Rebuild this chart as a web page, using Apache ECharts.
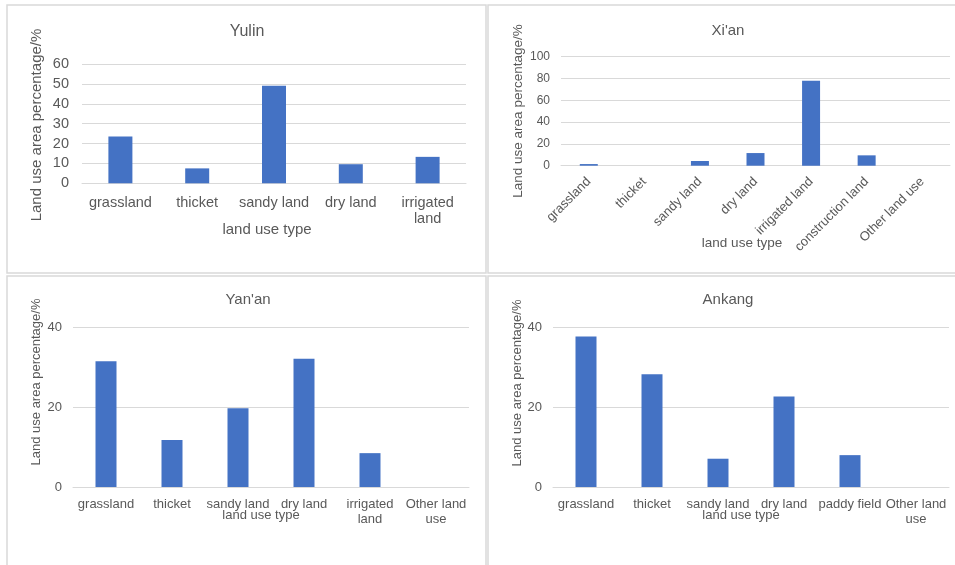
<!DOCTYPE html>
<html>
<head>
<meta charset="utf-8">
<script src="https://cdn.jsdelivr.net/npm/echarts@6/dist/echarts.min.js"></script>
<style>
html,body{margin:0;padding:0;background:#fff;}
#chart{width:955px;height:565px;}
</style>
</head>
<body>
<div id="chart"></div>
<script>
// ---- data ----
var panelTitles = ['Yulin', "Xi'an", "Yan'an", 'Ankang'];
var yAxisTitle = 'Land use area percentage/%';
var xAxisTitle = 'land use type';

var yulinCategories = ['grassland', 'thicket', 'sandy land', 'dry land', 'irrigated land'];
var yulinValues = [23.5, 7.5, 49, 9.6, 13.3];

var xianCategories = ['grassland', 'thicket', 'sandy land', 'dry land', 'irrigated land', 'construction land', 'Other land use'];
var xianValues = [1.5, 0, 4.3, 11.6, 78, 9.5, 0];

var yananCategories = ['grassland', 'thicket', 'sandy land', 'dry land', 'irrigated land', 'Other land use'];
var yananValues = [31.6, 11.8, 19.8, 32.2, 8.5, 0];

var ankangCategories = ['grassland', 'thicket', 'sandy land', 'dry land', 'paddy field', 'Other land use'];
var ankangValues = [37.8, 28.3, 7.1, 22.7, 8.0, 0];

var yulinTicks = {min: 0, max: 60, interval: 10};
var xianTicks = {min: 0, max: 100, interval: 20};
var yananTicks = {min: 0, max: 40, interval: 20};
var ankangTicks = {min: 0, max: 40, interval: 20};

// ---- styles / layout ----
var FONT = '"Liberation Sans", Arial, sans-serif';
var TXT = '#595959';
var GRIDC = '#d9d9d9';
var BAR = '#4472C4';

// wrap long category names like Excel does (break at last space within maxChars)
function wrapLabel(s, maxChars) {
  if (s.length <= 12) return s;
  var cut = s.lastIndexOf(' ', maxChars);
  if (cut <= 0) return s;
  return s.slice(0, cut) + '\n' + s.slice(cut + 1);
}

var panels = [
  {cats: yulinCategories, vals: yulinValues, ticks: yulinTicks,
   grid: {left: 82, top: 64, width: 384, height: 119.3},
   title: {x: 247, y: 24, size: 16}, labelSize: 14.5, tickSize: 14.5, yMargin: 13, xMargin: 11,
   barWidth: 24, rotate: 0,
   yName: {x: 37, y: 125, size: 15}, xName: {x: 267, y: 230, size: 15}},
  {cats: xianCategories, vals: xianValues, ticks: xianTicks,
   grid: {left: 561, top: 56.7, width: 389, height: 109},
   title: {x: 728, y: 23, size: 15}, labelSize: 13, tickSize: 12, yMargin: 11, xMargin: 14,
   barWidth: 18, rotate: 45,
   yName: {x: 518, y: 111, size: 13.5}, xName: {x: 742, y: 243, size: 13.5}},
  {cats: yananCategories, vals: yananValues, ticks: yananTicks,
   grid: {left: 73, top: 327.7, width: 396, height: 159.3},
   title: {x: 248, y: 292, size: 15}, labelSize: 13, tickSize: 13, yMargin: 11, xMargin: 10,
   barWidth: 21, rotate: 0,
   yName: {x: 36, y: 382, size: 13}, xName: {x: 261, y: 515, size: 13}},
  {cats: ankangCategories, vals: ankangValues, ticks: ankangTicks,
   grid: {left: 553, top: 327.7, width: 396, height: 159.3},
   title: {x: 728, y: 292, size: 15}, labelSize: 13, tickSize: 13, yMargin: 11, xMargin: 10,
   barWidth: 21, rotate: 0,
   yName: {x: 517, y: 383, size: 13}, xName: {x: 741, y: 515, size: 13}}
];

var option = {
  backgroundColor: '#ffffff',
  animation: false,
  textStyle: {fontFamily: FONT},
  title: [], grid: [], xAxis: [], yAxis: [], series: [],
  graphic: []
};

// panel frames
var frames = [
  {x: 7, y: 5, w: 479, h: 268},
  {x: 488, y: 5, w: 475, h: 268},
  {x: 7, y: 276, w: 479, h: 300},
  {x: 488, y: 276, w: 475, h: 300}
];
frames.forEach(function (f) {
  option.graphic.push({
    type: 'rect', silent: true, z: -10,
    shape: {x: f.x, y: f.y, width: f.w, height: f.h},
    style: {fill: '#ffffff', stroke: GRIDC, lineWidth: 1.5}
  });
});

panels.forEach(function (p, i) {
  option.title.push({
    text: panelTitles[i], left: p.title.x, top: p.title.y, textAlign: 'center', padding: 0,
    textStyle: {fontFamily: FONT, fontWeight: 'normal', fontSize: p.title.size, color: TXT}
  });
  option.grid.push({left: p.grid.left, top: p.grid.top, width: p.grid.width, height: p.grid.height, containLabel: false});
  var rot = p.rotate;
  option.xAxis.push({
    type: 'category', gridIndex: i, data: p.cats,
    axisLine: {show: true, lineStyle: {color: GRIDC, width: 1}},
    axisTick: {show: false},
    axisLabel: {
      interval: 0, rotate: rot, margin: p.xMargin, color: TXT,
      fontFamily: FONT, fontSize: p.labelSize, lineHeight: p.labelSize * 1.15,
      formatter: function (v) { return rot ? v : wrapLabel(v, 10); }
    }
  });
  option.yAxis.push({
    type: 'value', gridIndex: i, min: p.ticks.min, max: p.ticks.max, interval: p.ticks.interval,
    axisLine: {show: false}, axisTick: {show: false},
    splitLine: {show: true, lineStyle: {color: GRIDC, width: 1}},
    axisLabel: {color: TXT, fontFamily: FONT, fontSize: p.tickSize, margin: p.yMargin}
  });
  option.series.push({
    type: 'bar', xAxisIndex: i, yAxisIndex: i, data: p.vals,
    barWidth: p.barWidth, itemStyle: {color: BAR}
  });
  option.graphic.push({
    type: 'text', silent: true, x: p.yName.x, y: p.yName.y, rotation: Math.PI / 2,
    style: {text: yAxisTitle, fill: TXT, font: p.yName.size + 'px ' + FONT, align: 'center', verticalAlign: 'middle'}
  });
  option.graphic.push({
    type: 'text', silent: true, x: p.xName.x, y: p.xName.y,
    style: {text: xAxisTitle, fill: TXT, font: p.xName.size + 'px ' + FONT, align: 'center', verticalAlign: 'middle'}
  });
});

var chart = echarts.init(document.getElementById('chart'), null, {renderer: 'canvas'});
chart.setOption(option);
</script>
</body>
</html>
